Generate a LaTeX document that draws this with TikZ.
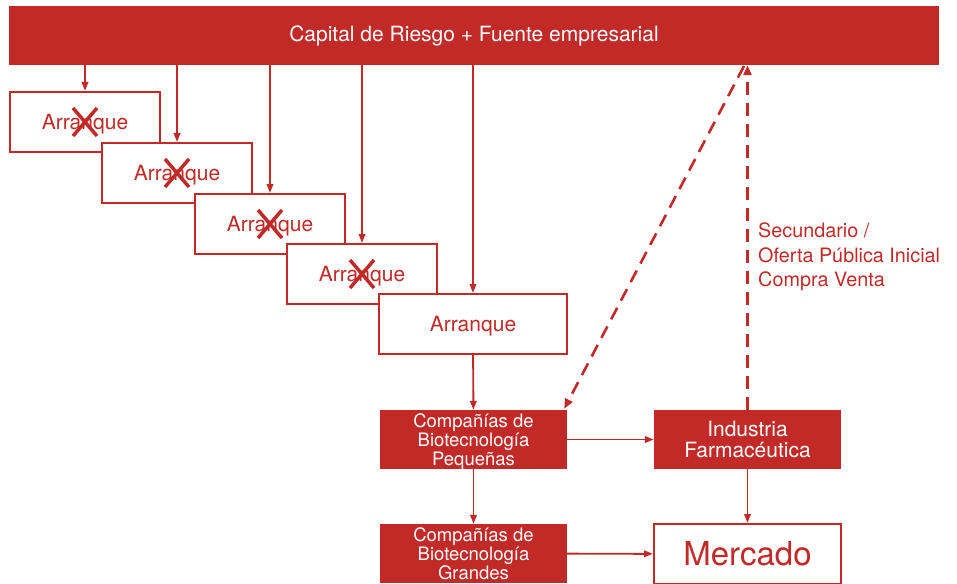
\documentclass[tikz,border=0pt]{standalone}
\usepackage{fontspec}
\setmainfont{TeX Gyre Heros}
\usetikzlibrary{arrows.meta}
\definecolor{rred}{RGB}{193,42,39}
\begin{document}
\begin{tikzpicture}[x=1pt,y=-1pt,
  fillbox/.style={fill=rred,text=white,draw=none,align=center,inner sep=0pt},
  linebox/.style={draw=rred,line width=2pt,fill=white,text=rred,align=center,inner sep=0pt},
  arr/.style={draw=rred,line width=1.9pt,-{Triangle[length=9pt,width=6.5pt]}},
  dasharr/.style={draw=rred,line width=2.6pt,dash pattern=on 13pt off 8pt,-{Triangle[length=10pt,width=8pt]}},
  xmark/.style={draw=rred,line width=3.5pt},
  big/.style={font=\fontsize{21}{21}\selectfont},
  small/.style={font=\fontsize{18.5}{19}\selectfont,text depth=0pt},
  capcenter/.style={text height=15pt,text depth=0pt}]
\useasboundingbox (0,0) rectangle (957,583);
\node[fillbox,big,minimum width=930pt,minimum height=59pt] (bar) at (474,35.5) {Capital de Riesgo + Fuente empresarial};
\node[linebox,big,capcenter,minimum width=150pt,minimum height=60pt] (b1) at (85,122) {Arranque};
\node[linebox,big,capcenter,minimum width=150pt,minimum height=60pt] (b2) at (177,173) {Arranque};
\node[linebox,big,capcenter,minimum width=150pt,minimum height=60pt] (b3) at (270,224) {Arranque};
\node[linebox,big,capcenter,minimum width=150pt,minimum height=60pt] (b4) at (362,274) {Arranque};
\node[linebox,big,capcenter,minimum width=188pt,minimum height=60pt] (b5) at (473,324) {Arranque};
\foreach \b in {b1,b2,b3,b4}{
  \draw[xmark] ([shift={(-12,-14)}]\b.center) -- ([shift={(12,14)}]\b.center);
  \draw[xmark] ([shift={(-12,14)}]\b.center) -- ([shift={(12,-14)}]\b.center);
}
\node[fillbox,small,minimum width=187pt,minimum height=59pt] (peq) at (473.5,439.5) {Compañías de\\Biotecnología\\Pequeñas};
\node[fillbox,small,minimum width=187pt,minimum height=59pt] (gra) at (473.5,553.5) {Compañías de\\Biotecnología\\Grandes};
\node[fillbox,big,minimum width=187pt,minimum height=59pt] (ind) at (747.5,439.5) {Industria\\Farmacéutica};
\node[linebox,font=\fontsize{33}{33}\selectfont,minimum width=187pt,minimum height=60pt] (mer) at (747.5,554) {Mercado};
\foreach \b in {b1,b2,b3,b4,b5}{
  \draw[arr] (bar.south -| \b.north) -- (\b.north);
}
\draw[arr] (b5) -- (peq);
\draw[arr] (peq) -- (gra);
\draw[arr] (peq) -- (ind);
\draw[arr] (gra) -- (mer);
\draw[arr] (ind) -- (mer);
\coordinate (dtop) at (744,66);
\draw[dasharr] (dtop) -- ([shift={(-3,-1)}]peq.north east);
\draw[dasharr] (ind.north) -- (ind.north |- bar.south);
\node[anchor=north west,align=left,text=rred,inner sep=0pt,font=\fontsize{19.8}{24.5}\selectfont] (lbl) at (758,223) {Secundario /\\Oferta Pública Inicial\\Compra Venta};
\end{tikzpicture}
\end{document}
